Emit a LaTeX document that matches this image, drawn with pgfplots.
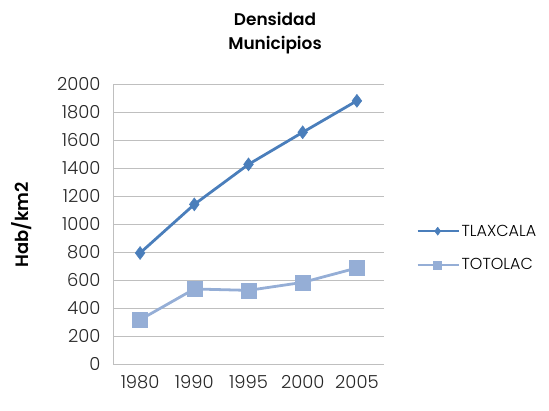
\documentclass[border=0pt]{standalone}
\usepackage{pgfplots}
\pgfplotsset{compat=1.18}
\usepackage{fontspec}
\setmainfont{Poppins}[UprightFont=* Light, BoldFont=* SemiBold]
\definecolor{tlax}{HTML}{4A7EBB}
\definecolor{toto}{HTML}{95AED6}
\definecolor{gridc}{HTML}{BFBFBF}
\begin{document}
\begin{tikzpicture}[x=1bp,y=1bp]
\path (0,0) rectangle (549,410);
\begin{axis}[
  at={(113bp,46bp)}, anchor=south west,
  width=271bp, height=280bp, scale only axis,
  xmin=0, xmax=5, ymin=0, ymax=2000,
  xtick={0.5,1.5,2.5,3.5,4.5},
  xticklabels={1980,1990,1995,2000,2005},
  ytick={0,200,...,2000},
  ymajorgrids, major grid style={gridc, line width=1pt},
  axis line style={gridc, line width=1pt},
  axis x line*=bottom, axis y line*=left,
  tick style={draw=none},
  tick label style={font=\fontsize{18}{20}\selectfont\color{black!85}},
  /pgf/number format/assume math mode=true,
  yticklabel style={/pgf/number format/1000 sep={}, xshift=-9bp},
  xticklabel style={yshift=-8bp},
  clip=false,
  legend style={at={(1.12,0.505)}, anchor=north west, draw=none, fill=none,
    font=\fontsize{16}{18}\selectfont, row sep=17bp, inner sep=0pt},
  legend cell align=left,
  legend image code/.code={\draw[#1, line width=2pt] (0bp,0bp) -- (20bp,0bp) plot[mark size=4bp] coordinates {(20bp,0bp)} -- (41bp,0bp);},
]
\addplot[tlax, line width=2.8pt, mark=diamond*, mark size=6.5bp, mark options={solid, line width=0.5pt}] coordinates {
(0.5,793) (1.5,1140) (2.5,1426) (3.5,1655) (4.5,1880)};
\addlegendentry{TLAXCALA}
\addplot[toto, line width=2.8pt, mark=square*, mark size=7.5bp, mark options={solid, line width=0.5pt}] coordinates {
(0.5,316) (1.5,536) (2.5,526) (3.5,583) (4.5,686)};
\addlegendentry{TOTOLAC}
\end{axis}
\node[font=\bfseries\fontsize{17}{24}\selectfont, align=center] at (275,377) {Densidad\\Municipios};
\node[font=\bfseries\fontsize{18}{20}\selectfont, rotate=90] at (22,185) {Hab/km2};
\end{tikzpicture}
\end{document}
